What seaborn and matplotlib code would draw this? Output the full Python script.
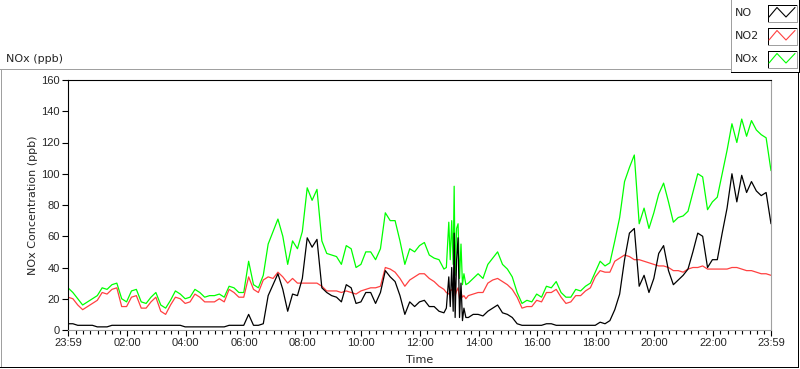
"""Daily NO / NO2 / NOx concentration trace, redrawn in a LabVIEW-like chart frame."""

import matplotlib

matplotlib.use("Agg")

import matplotlib.pyplot as plt
import pandas as pd
import seaborn as sns
from matplotlib.lines import Line2D

# minutes after 23:59
MINUTES = [
    0, 10, 20, 30, 40, 50, 60, 70, 80, 90,
    100, 110, 120, 130, 140, 150, 160, 170, 180, 190,
    200, 210, 220, 230, 240, 250, 260, 270, 280, 290,
    300, 310, 320, 330, 340, 350, 360, 370, 380, 390,
    400, 410, 420, 430, 440, 450, 460, 470, 480, 490,
    500, 510, 520, 530, 540, 550, 560, 570, 580, 590,
    600, 610, 620, 630, 640, 650, 660, 670, 680, 690,
    700, 710, 720, 730, 740, 750, 760,
    770, 775, 780, 783, 786, 789, 791, 793, 796, 799, 802, 805, 808, 811, 815,
    820, 830, 840, 850, 860, 870, 880, 890, 900, 910,
    920, 930, 940, 950, 960, 970, 980, 990, 1000, 1010,
    1020, 1030, 1040, 1050, 1060, 1070, 1080, 1090, 1100, 1110,
    1120, 1130, 1140, 1150, 1160, 1170, 1180, 1190, 1200, 1210,
    1220, 1230, 1240, 1250, 1260, 1270, 1280, 1290, 1300, 1310,
    1320, 1330, 1340, 1350, 1360, 1370, 1380, 1390, 1400, 1410,
    1420, 1430, 1440,
]

NOX = [
    27, 24, 20, 16, 18, 20, 22, 27, 26, 29,
    30, 20, 18, 25, 26, 18, 17, 21, 24, 16,
    14, 19, 25, 23, 20, 21, 26, 24, 21, 22,
    22, 23, 21, 28, 27, 24, 24, 44, 29, 27,
    35, 55, 63, 71, 60, 42, 57, 52, 63, 91,
    83, 90, 57, 49, 48, 47, 42, 54, 52, 40,
    42, 50, 50, 45, 52, 75, 70, 70, 57, 42,
    52, 50, 54, 56, 48, 46, 45,
    39, 40, 69, 45, 70, 42, 92, 35, 65, 68, 33, 55, 29, 36, 29,
    30, 33, 36, 33, 42, 46, 50, 42, 39, 34,
    24, 17, 19, 18, 23, 21, 28, 27, 31, 24,
    21, 21, 26, 25, 28, 30, 37, 44, 41, 43,
    57, 72, 95, 104, 112, 68, 78, 65, 75, 87,
    94, 82, 69, 72, 73, 76, 88, 100, 98, 77,
    82, 85, 100, 115, 132, 120, 135, 124, 134, 128,
    125, 123, 102,
]

NO2 = [
    21, 20, 16, 13, 15, 17, 19, 24, 23, 26,
    27, 15, 15, 21, 22, 14, 14, 18, 21, 12,
    10, 16, 21, 20, 17, 18, 23, 21, 18, 18,
    18, 20, 18, 26, 24, 21, 21, 34, 26, 24,
    32, 34, 33, 37, 34, 30, 33, 30, 30, 30,
    30, 30, 28, 25, 25, 25, 24, 25, 24, 23,
    25, 26, 27, 27, 28, 40, 39, 37, 33, 28,
    32, 34, 36, 36, 33, 31, 28,
    26, 24, 23, 25, 26, 24, 28, 22, 25, 27, 20, 24, 21, 22, 20,
    22, 23, 24, 24, 30, 32, 33, 31, 29, 26,
    21, 14, 15, 15, 19, 18, 24, 24, 26, 21,
    17, 18, 22, 22, 25, 27, 34, 38, 37, 37,
    44, 46, 48, 47, 45, 45, 44, 43, 42, 41,
    41, 40, 38, 38, 37, 39, 40, 40, 41, 39,
    39, 39, 39, 39, 40, 40, 39, 38, 38, 37,
    36, 36, 35,
]

NO = [
    4, 4, 3, 3, 3, 3, 2, 2, 2, 3,
    3, 3, 3, 3, 3, 3, 3, 3, 3, 3,
    3, 3, 3, 3, 2, 2, 2, 2, 2, 2,
    2, 2, 2, 3, 3, 3, 3, 10, 3, 3,
    4, 22, 29, 36, 26, 12, 23, 22, 33, 59,
    53, 58, 27, 24, 22, 21, 18, 29, 27, 17,
    18, 24, 24, 17, 24, 38, 34, 31, 22, 10,
    18, 15, 18, 19, 15, 15, 12,
    11, 14, 34, 15, 40, 12, 62, 8, 45, 59, 8, 30, 6, 14, 8,
    8, 10, 10, 9, 12, 14, 16, 11, 10, 8,
    4, 3, 3, 3, 3, 3, 4, 4, 3, 3,
    3, 3, 3, 3, 3, 3, 3, 5, 4, 6,
    13, 23, 45, 62, 65, 28, 35, 24, 33, 49,
    54, 38, 29, 32, 35, 39, 50, 62, 60, 40,
    45, 45, 62, 78, 100, 82, 99, 88, 95, 89,
    86, 88, 68,
]

SERIES_ORDER = ["NO", "NO2", "NOx"]
PALETTE = {"NO": "#000000", "NO2": "#ff4040", "NOx": "#00ff00"}

Y_TICKS = [0, 20, 40, 60, 80, 100, 120, 140, 160]
X_TICKS = [0, 121, 241, 361, 481, 601, 721, 841, 961, 1081, 1201, 1321, 1440]
X_TICK_LABELS = [
    "23:59", "02:00", "04:00", "06:00", "08:00", "10:00", "12:00",
    "14:00", "16:00", "18:00", "20:00", "22:00", "23:59",
]

W, H = 800, 369
GREY = "#a0a0a0"
ONE_PX = 0.72
TEXT_FONT = ["DejaVu Sans"]
NUM_FONT = ["Liberation Sans", "DejaVu Sans"]


def px(x, y):
    """Pixel position (from top-left) to figure fraction."""
    return x / W, 1 - y / H


def seg(fig, x0, y0, x1, y1, color, lw=ONE_PX):
    (a, b), (c, d) = px(x0, y0), px(x1, y1)
    fig.add_artist(Line2D([a, c], [b, d], color=color, linewidth=lw,
                          transform=fig.transFigure, antialiased=False))


def build_frame() -> pd.DataFrame:
    frames = []
    for name, values in [("NOx", NOX), ("NO2", NO2), ("NO", NO)]:
        frames.append(pd.DataFrame({"minute": MINUTES, "ppb": values, "species": name}))
    return pd.concat(frames, ignore_index=True)


def draw_legend(fig):
    tops = [4.5, 27.5, 50.5]
    for name, top in zip(SERIES_ORDER, tops):
        x, y = px(735, top + 8.5)
        fig.text(x, y, name, fontsize=8, va="center", ha="left", family=TEXT_FONT)
        left, right, bottom = 767.5, 796.5, top + 17
        seg(fig, left, top, right, top, "black")
        seg(fig, left, top, left, bottom, "black")
        seg(fig, left, bottom, right, bottom, GREY)
        seg(fig, right, top, right, bottom, GREY)
        zx = [769, 777, 786, 795]
        zy = [top + 12.5, top + 3, top + 12.5, top + 3]
        pts = [px(a, b) for a, b in zip(zx, zy)]
        fig.add_artist(Line2D([p[0] for p in pts], [p[1] for p in pts],
                              color=PALETTE[name], linewidth=0.8,
                              transform=fig.transFigure))


def main() -> None:
    sns.set_theme(style="white")
    plt.rcParams["font.family"] = NUM_FONT

    data = build_frame()
    fig = plt.figure(figsize=(W / 100, H / 100), dpi=100)
    fig.patch.set_facecolor("white")
    ax = fig.add_axes([68 / W, 1 - 330 / H, (771 - 68) / W, (330 - 80) / H])

    for name in ["NOx", "NO2", "NO"]:
        sns.lineplot(
            data=data[data["species"] == name],
            x="minute",
            y="ppb",
            color=PALETTE[name],
            linewidth=0.9,
            legend=False,
            ax=ax,
        )

    ax.set_xlim(0, 1440)
    ax.set_ylim(0, 160)
    ax.set_yticks(Y_TICKS)
    ax.set_xticks(X_TICKS)
    ax.set_xticklabels(X_TICK_LABELS)
    ax.set_xticks(list(range(16, 1440, 15)), minor=True)
    ax.tick_params(axis="both", which="major", direction="out", length=4,
                   width=0.8, color="black", labelsize=8, pad=2, bottom=True, left=True)
    ax.tick_params(axis="x", which="minor", direction="out", length=3,
                   width=0.8, color="black", bottom=True)

    for side, color in [("left", "black"), ("top", "black"), ("right", GREY), ("bottom", GREY)]:
        ax.spines[side].set_visible(True)
        ax.spines[side].set_color(color)
        ax.spines[side].set_linewidth(0.8)

    ax.set_xlabel("Time", fontsize=8, family=TEXT_FONT)
    ax.set_ylabel("NOx Concentration (ppb)", fontsize=8, family=TEXT_FONT)
    ax.xaxis.set_label_coords(0.5, -0.1)
    ax.yaxis.set_label_coords(-0.043, 0.5)

    # outer chart frame
    seg(fig, 0, 68.5, 731, 68.5, GREY)
    seg(fig, 0.5, 68.5, 0.5, 367, GREY)
    seg(fig, 0, 366.5, 798, 366.5, "black")
    seg(fig, 797.5, 72, 797.5, 367, "black")
    # legend frame
    seg(fig, 730.5, 0, 730.5, 72, GREY)
    seg(fig, 731, 71.5, 798, 71.5, "black")
    seg(fig, 798.5, 0, 798.5, 72, "black")

    x, y = px(6, 59)
    fig.text(x, y, "NOx (ppb)", fontsize=8, va="center", ha="left", family=TEXT_FONT)
    draw_legend(fig)

    fig.savefig("out.png", dpi=100)
    plt.close(fig)


if __name__ == "__main__":
    main()
